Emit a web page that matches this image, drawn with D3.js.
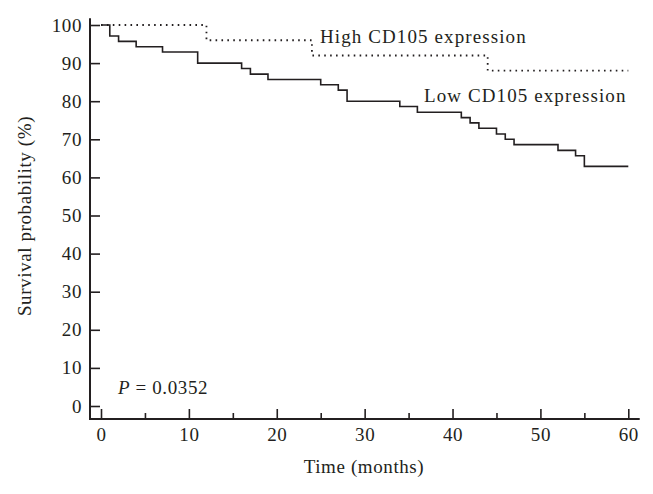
<!DOCTYPE html>
<html>
<head>
<meta charset="utf-8">
<script src="https://cdn.jsdelivr.net/npm/d3@7"></script>
<style>
  body { margin: 0; background: #fff; }
  text { font-family: "Liberation Serif", "Times New Roman", serif; fill: #231f20; }
</style>
</head>
<body>
<svg id="km"></svg>
<script>
// Kaplan-Meier curves
var lowTimes = [0, 1, 2, 4, 7, 11, 16, 17, 19, 25, 27, 28, 34, 36, 41, 42, 43, 45, 46, 47, 52, 54, 55, 60];
var lowSurv  = [100, 97.1, 95.7, 94.3, 92.9, 90.0, 88.6, 87.1, 85.7, 84.3, 82.9, 80.0, 78.6, 77.1, 75.7, 74.3, 72.9, 71.4, 70.0, 68.6, 67.1, 65.7, 62.9, 62.9];
var highTimes = [0, 12, 24, 44, 60];
var highSurv  = [100, 96, 92, 88, 88];

var xMajor = [0, 10, 20, 30, 40, 50, 60];
var xMinor = [5, 15, 25, 35, 45, 55];
var yTicks = [0, 10, 20, 30, 40, 50, 60, 70, 80, 90, 100];

var width = 653, height = 494;
var ink = "#231f20";

var svg = d3.select("#km")
    .attr("width", width)
    .attr("height", height);

var xScale = d3.scaleLinear().domain([0, 60]).range([101, 628.3]);
var yScale = d3.scaleLinear().domain([0, 100]).range([406, 25]);

var axisY = 419;   // x axis sits a bit below y = 0
var axisX = 90;    // y axis sits a bit left of t = 0

// x axis
var gx = svg.append("g").attr("transform", "translate(0," + axisY + ")");
gx.call(d3.axisBottom(xScale).tickValues(xMajor).tickSize(-10).tickPadding(9).tickFormat(d3.format("d")));
gx.append("g").call(d3.axisBottom(xScale).tickValues(xMinor).tickSize(-6).tickFormat(""));
gx.selectAll(".domain").remove();
gx.append("line")
    .attr("x1", axisX).attr("x2", xScale(61.3))
    .attr("stroke", ink).attr("stroke-width", 2);

// y axis
var gy = svg.append("g").attr("transform", "translate(" + axisX + ",0)");
gy.call(d3.axisLeft(yScale).tickValues(yTicks).tickSize(-10).tickPadding(8));
gy.select(".domain").remove();
gy.append("line")
    .attr("y1", yScale(101.8)).attr("y2", axisY + 1)
    .attr("stroke", ink).attr("stroke-width", 2);

svg.selectAll(".tick line").attr("stroke", ink).attr("stroke-width", 1.6);
svg.selectAll(".tick text")
    .style("font-family", "Liberation Serif, serif")
    .style("font-size", "19px")
    .style("letter-spacing", "0.6px")
    .attr("fill", ink);

// curves
var stepLine = d3.line()
    .x(function(d){ return xScale(d[0]); })
    .y(function(d){ return yScale(d[1]); })
    .curve(d3.curveStepAfter);

var highPts = highTimes.map(function(t, i){ return [t, highSurv[i]]; });
var lowPts  = lowTimes.map(function(t, i){ return [t, lowSurv[i]]; });

svg.append("path")
    .datum(highPts)
    .attr("d", stepLine)
    .attr("fill", "none")
    .attr("stroke", ink)
    .attr("stroke-width", 1.8)
    .attr("stroke-dasharray", "1.6,4.3");

svg.append("path")
    .datum(lowPts)
    .attr("d", stepLine)
    .attr("fill", "none")
    .attr("stroke", ink)
    .attr("stroke-width", 1.6);

// labels
var lab = { "font-size": "19px", "letter-spacing": "1.1px" };

svg.append("text")
    .attr("x", 320).attr("y", 43)
    .style("font-size", lab["font-size"]).style("letter-spacing", lab["letter-spacing"])
    .text("High CD105 expression");

svg.append("text")
    .attr("x", 424).attr("y", 101.5)
    .style("font-size", lab["font-size"]).style("letter-spacing", lab["letter-spacing"])
    .text("Low CD105 expression");

var pText = svg.append("text")
    .attr("x", 118).attr("y", 394)
    .style("font-size", lab["font-size"]).style("letter-spacing", "0.6px");
pText.append("tspan").style("font-style", "italic").text("P");
pText.append("tspan").text(" = 0.0352");

svg.append("text")
    .attr("x", 364).attr("y", 473)
    .attr("text-anchor", "middle")
    .style("font-size", lab["font-size"]).style("letter-spacing", "0.6px")
    .text("Time (months)");

svg.append("text")
    .attr("transform", "translate(31,216) rotate(-90)")
    .attr("text-anchor", "middle")
    .style("font-size", lab["font-size"]).style("letter-spacing", "0.6px")
    .text("Survival probability (%)");
</script>
</body>
</html>
